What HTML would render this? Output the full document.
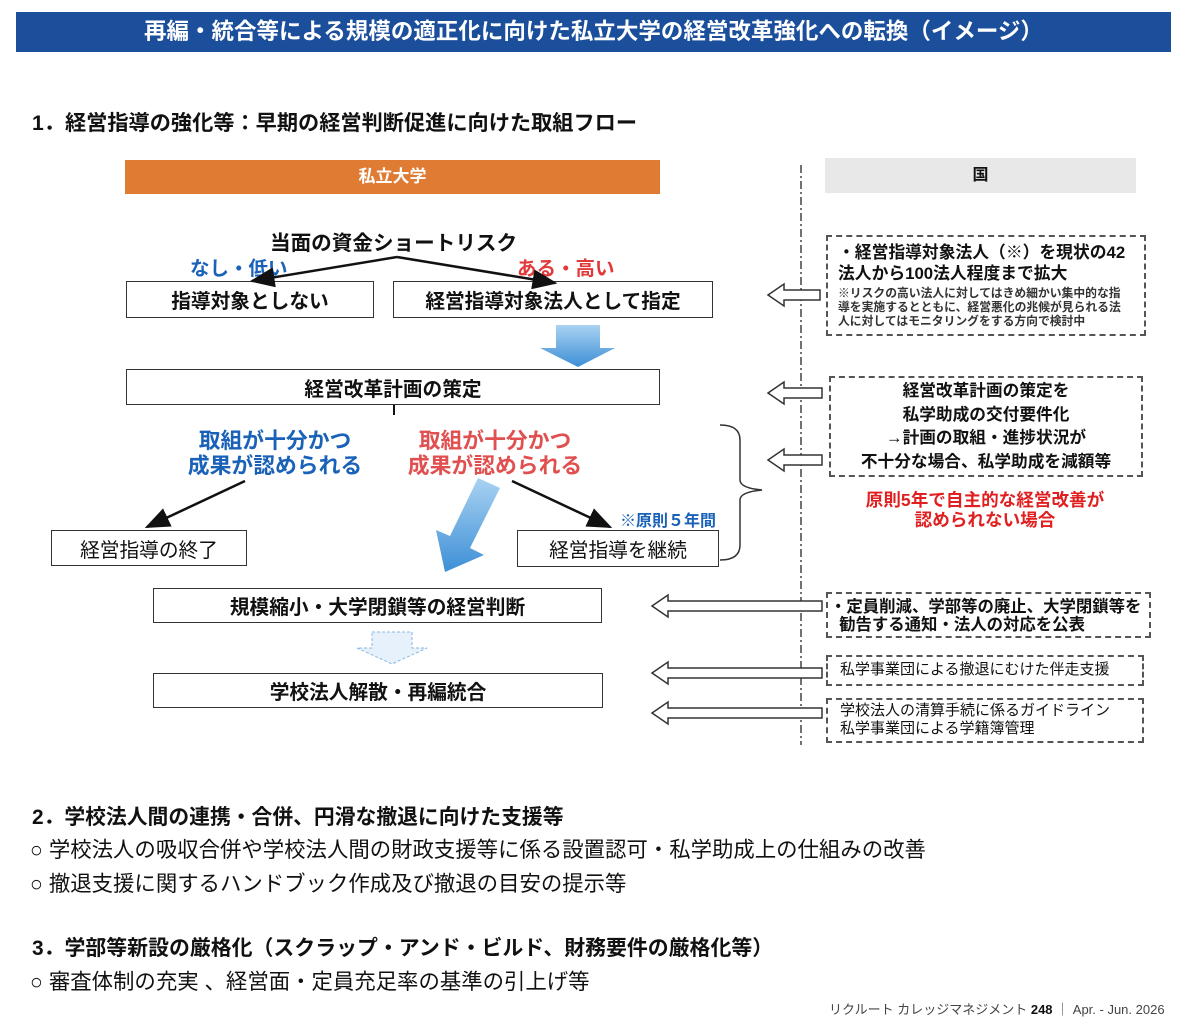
<!DOCTYPE html>
<html><head><meta charset="utf-8"><style>
body{margin:0;background:#fff;width:1181px;height:1029px;position:relative;overflow:hidden;font-family:"Liberation Sans","Noto Sans CJK JP",sans-serif;color:#111}
.a{position:absolute;white-space:nowrap}
.box{position:absolute;border:1.5px solid #333;box-sizing:border-box;display:flex;align-items:center;justify-content:center;font-size:19.7px;font-weight:bold;background:#fff;white-space:nowrap}
.db{position:absolute;border:2px dashed #555;box-sizing:border-box;white-space:nowrap}
.b{font-weight:bold}
</style></head><body>
<div class="a b" style="left:16px;top:12px;width:1155px;height:40px;background:#1b4f9c;color:#fff;font-size:22.5px;line-height:40px;text-align:center">再編・統合等による規模の適正化に向けた私立大学の経営改革強化への転換（イメージ）</div>
<div class="a b" style="left:32px;top:106px;font-size:21.2px">1．経営指導の強化等：早期の経営判断促進に向けた取組フロー</div>
<div class="a b" style="left:125px;top:160px;width:535px;height:34px;background:#e07b33;color:#fff;font-size:17px;line-height:34px;text-align:center">私立大学</div>
<div class="a b" style="left:825px;top:158px;width:311px;height:35px;background:#e8e8e8;font-size:16px;line-height:35px;text-align:center">国</div>
<div class="a b" style="left:270px;top:226px;font-size:20.6px">当面の資金ショートリスク</div>
<div class="a b" style="left:190px;top:252px;font-size:19.5px;color:#1a62b8">なし・低い</div>
<div class="a b" style="left:517px;top:252px;font-size:19.5px;color:#e03a3a">ある・高い</div>
<div class="box" style="left:126px;top:281px;width:248px;height:37px">指導対象としない</div>
<div class="box" style="left:393px;top:281px;width:320px;height:37px">経営指導対象法人として指定</div>
<div class="box" style="left:126px;top:369px;width:534px;height:36px">経営改革計画の策定</div>
<svg class="a" style="left:0;top:0" width="1181" height="1029">
<defs><marker id="m" markerWidth="10" markerHeight="8" refX="9" refY="4" orient="auto"><path d="M0,0L10,4L0,8z" fill="#111"/></marker>
<linearGradient id="g" x1="0" y1="0" x2="0" y2="1"><stop offset="0" stop-color="#a9d2f2"/><stop offset="1" stop-color="#3d8fd6"/></linearGradient></defs>
<line x1="801" y1="165" x2="801" y2="745" stroke="#444" stroke-width="1.5" stroke-dasharray="8,3,2,3"/>
<line x1="397" y1="257" x2="252" y2="281" stroke="#111" stroke-width="2.5" marker-end="url(#m)"/>
<line x1="397" y1="257" x2="555" y2="283" stroke="#111" stroke-width="2.5" marker-end="url(#m)"/>
<line x1="394" y1="405" x2="394" y2="415" stroke="#111" stroke-width="2"/>
<line x1="245" y1="481" x2="147" y2="527" stroke="#111" stroke-width="2.5" marker-end="url(#m)"/>
<line x1="512" y1="481" x2="610" y2="527" stroke="#111" stroke-width="2.5" marker-end="url(#m)"/>
<path d="M556,325H600V348H615L578,367L540,348H556Z" fill="url(#g)"/>
<path d="M478,478L500,488L470,548L484,555L445,572L436,530L450,536Z" fill="url(#g)"/>
<path d="M372,632H412V648H427L392,664L357,648H372Z" fill="#e6f1fb" stroke="#8ab8e0" stroke-dasharray="3,2"/>
<path d="M720,425Q740,425 740,440V480Q740,488 762,490Q740,492 740,500V545Q740,560 720,560" fill="none" stroke="#333" stroke-width="1.5"/>
<g fill="#fff" stroke="#333" stroke-width="1.5">
<path d="M768,295L784,284V290H820V300H784V306Z"/>
<path d="M768,393L784,382V388H822V398H784V404Z"/>
<path d="M768,460L784,449V455H822V465H784V471Z"/>
<path d="M652,606L668,595V601H822V611H668V617Z"/>
<path d="M652,673L668,662V668H822V678H668V684Z"/>
<path d="M652,713L668,702V708H822V718H668V724Z"/>
</g>
</svg>
<div class="a b" style="left:175px;top:428px;width:200px;text-align:center;font-size:21.8px;line-height:25px;color:#1a62b8">取組が十分かつ<br>成果が認められる</div>
<div class="a b" style="left:395px;top:428px;width:200px;text-align:center;font-size:21.8px;line-height:25px;color:#e05050">取組が十分かつ<br>成果が認められる</div>
<div class="a b" style="left:620px;top:507px;font-size:16px;color:#1a62b8">※原則５年間</div>
<div class="box" style="left:51px;top:530px;width:196px;height:36px;font-weight:normal">経営指導の終了</div>
<div class="box" style="left:517px;top:530px;width:202px;height:37px;font-weight:normal">経営指導を継続</div>
<div class="box" style="left:153px;top:588px;width:449px;height:35px">規模縮小・大学閉鎖等の経営判断</div>
<div class="box" style="left:153px;top:673px;width:450px;height:35px">学校法人解散・再編統合</div>
<div class="db" style="left:826px;top:235px;width:320px;height:101px;padding:5px 10px">
<div class="b" style="font-size:16.8px;line-height:21px">・経営指導対象法人（※）を現状の42<br>法人から100法人程度まで拡大</div>
<div class="b" style="font-size:11.8px;line-height:14px;margin-top:2px;color:#333">※リスクの高い法人に対してはきめ細かい集中的な指<br>導を実施するとともに、経営悪化の兆候が見られる法<br>人に対してはモニタリングをする方向で検討中</div></div>
<div class="db b" style="left:829px;top:376px;width:314px;height:101px;font-size:16.7px;line-height:23.5px;text-align:center;padding-top:1px">経営改革計画の策定を<br>私学助成の交付要件化<br>→計画の取組・進捗状況が<br>不十分な場合、私学助成を減額等</div>
<div class="a b" style="left:835px;top:490px;width:300px;text-align:center;font-size:17.6px;line-height:20px;color:#e02020">原則5年で自主的な経営改善が<br>認められない場合</div>
<div class="db b" style="left:826px;top:592px;width:325px;height:46px;font-size:16.4px;line-height:18px;padding:4px 0 0 2px">・定員削減、学部等の廃止、大学閉鎖等を<br>&nbsp;&nbsp;勧告する通知・法人の対応を公表</div>
<div class="db" style="left:826px;top:655px;width:318px;height:31px;font-size:15px;line-height:26px;padding-left:12px">私学事業団による撤退にむけた伴走支援</div>
<div class="db" style="left:826px;top:698px;width:318px;height:45px;font-size:15px;line-height:18px;padding:2px 0 0 12px">学校法人の清算手続に係るガイドライン<br>私学事業団による学籍簿管理</div>
<div class="a b" style="left:32px;top:800px;font-size:20.8px">2．学校法人間の連携・合併、円滑な撤退に向けた支援等</div>
<div class="a" style="left:30px;top:833px;font-size:21.4px">○ 学校法人の吸収合併や学校法人間の財政支援等に係る設置認可・私学助成上の仕組みの改善</div>
<div class="a" style="left:30px;top:867px;font-size:21.4px">○ 撤退支援に関するハンドブック作成及び撤退の目安の提示等</div>
<div class="a b" style="left:32px;top:932px;font-size:20.9px">3．学部等新設の厳格化（スクラップ・アンド・ビルド、財務要件の厳格化等）</div>
<div class="a" style="left:30px;top:965px;font-size:21.4px">○ 審査体制の充実 、経営面・定員充足率の基準の引上げ等</div>
<div class="a" style="left:829px;top:999px;font-size:13px;color:#444">リクルート カレッジマネジメント <b style="color:#111">248</b> ｜ Apr. - Jun. 2026</div>
</body></html>
